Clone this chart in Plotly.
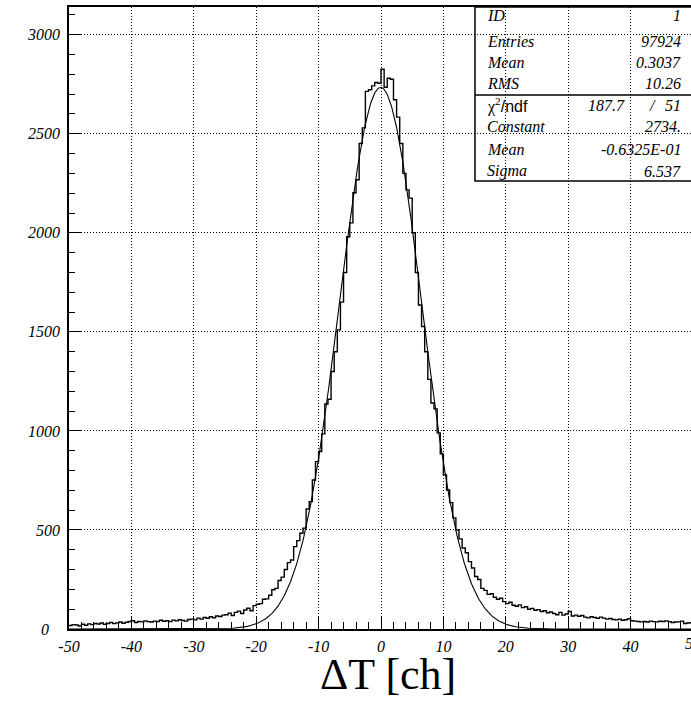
import numpy as np
import plotly.graph_objects as go

# ---- data -------------------------------------------------------------
bin_lo, bin_hi, bin_w = -50.0, 50.0, 0.5
counts = [
    # -50 .. -40
    18, 22, 20, 15, 24, 19, 26, 22, 28, 25, 30, 24, 28, 33, 27, 31, 35, 29, 34, 38,
    # -40 .. -30
    42, 33, 38, 36, 41, 37, 35, 40, 38, 44, 39, 42, 37, 45, 41, 47, 43, 40, 48, 50,
    # -30 .. -25
    46, 55, 50, 58, 54, 62, 57, 66, 63, 70,
    # -25 .. -20
    72, 80, 68, 84, 90, 78, 96, 105, 92, 118,
    # -20 .. -15
    125, 128, 150, 152, 170, 198, 205, 245, 262, 300,
    # -15 .. -10
    335, 348, 416, 446, 483, 509, 606, 643, 752, 845,
    # -10 .. -5
    896, 985, 1136, 1160, 1300, 1400, 1510, 1650, 1800, 1980,
    # -5 .. 0
    2050, 2202, 2268, 2451, 2530, 2714, 2722, 2742, 2759, 2755,
    # 0 .. 5
    2826, 2735, 2780, 2775, 2672, 2584, 2451, 2300, 2217, 2175,
    # 5 .. 10
    2000, 1800, 1636, 1527, 1400, 1260, 1141, 1111, 990, 884,
    # 10 .. 15
    778, 702, 638, 561, 500, 455, 409, 385, 340, 308,
    # 15 .. 20
    265, 250, 205, 195, 175, 178, 160, 150, 155, 138,
    # 20 .. 30
    128, 135, 120, 115, 122, 108, 112, 100, 104, 95, 98, 88, 92, 82, 86, 78, 72, 84, 70, 76,
    # 30 .. 40
    88, 66, 70, 64, 68, 60, 56, 62, 58, 54, 60, 55, 50, 53, 48, 46, 50, 44, 47, 52,
    # 40 .. 50
    42, 40, 38, 36, 38, 35, 40, 37, 36, 39, 38, 41, 37, 33, 35, 36, 40, 28, 30, 32,
]

# Gaussian fit parameters (from the statistics box)
fit_const = 2734.0
fit_mean = -0.06325
fit_sigma = 6.537

x_ticks = [-50, -40, -30, -20, -10, 0, 10, 20, 30, 40]
y_ticks = [0, 500, 1000, 1500, 2000, 2500, 3000]

stat_labels = ["ID", "Entries", "Mean", "RMS"]
stat_values = ["1", "97924", "0.3037", "10.26"]
fit_labels = ["Constant", "Mean", "Sigma"]
fit_values = ["2734.", "-0.6325E-01", "6.537"]
chi2_value = "187.7"
ndf_value = "51"

x_title = "ΔT [ch]"

# ---- geometry -----------------------------------------------------------
W, H = 691, 705
L, T, B = 69, 7, 76
PW, PH = W - L, H - T - B
px_per_unit = 6.24
x_range = [bin_lo, bin_lo + PW / px_per_unit]
y_range = [0, 3140]

def px(X):   # pixel x -> paper
    return (X - L) / PW

def py(Y):   # pixel y -> paper
    return (H - B - Y) / PH

# ---- traces -------------------------------------------------------------
edges = list(np.arange(bin_lo, bin_hi + 1e-9, bin_w))
hx = edges
hy = counts + [counts[-1]]

fx = np.linspace(bin_lo, bin_hi, 1200)
fy = fit_const * np.exp(-0.5 * ((fx - fit_mean) / fit_sigma) ** 2)

fig = go.Figure()
fig.add_trace(go.Scatter(x=hx, y=hy, mode="lines", line=dict(shape="hv", color="black", width=1.4),
                         hoverinfo="skip", showlegend=False))
fig.add_trace(go.Scatter(x=fx, y=fy, mode="lines", line=dict(color="black", width=1.1),
                         hoverinfo="skip", showlegend=False))

tickfont = dict(family="Liberation Serif", size=16, color="black", style="italic")

fig.update_layout(
    width=W, height=H,
    margin=dict(l=L, r=0, t=T, b=B, pad=0),
    paper_bgcolor="white", plot_bgcolor="white",
    showlegend=False,
    xaxis=dict(
        range=x_range, tickmode="array", tickvals=x_ticks, ticktext=[str(v) for v in x_ticks],
        ticks="inside", ticklen=13, tickwidth=1, tickcolor="black",
        showline=True, linewidth=1.5, linecolor="black", mirror=True,
        showgrid=True, gridcolor="black", gridwidth=1, griddash="1px,2px",
        zeroline=False, tickfont=tickfont, ticklabelstandoff=2,
        minor=dict(ticks="inside", ticklen=7, dtick=2, tick0=0, tickwidth=1, tickcolor="black", showgrid=False),
    ),
    yaxis=dict(
        range=y_range, tickmode="array", tickvals=y_ticks[1:],
        ticktext=[str(v) for v in y_ticks[1:]],
        ticks="inside", ticklen=12, tickwidth=1, tickcolor="black",
        showline=True, linewidth=1.5, linecolor="black",
        showgrid=True, gridcolor="black", gridwidth=1, griddash="1px,2px",
        zeroline=False, tickfont=tickfont, ticklabelstandoff=4,
        minor=dict(ticks="inside", ticklen=6, dtick=100, tick0=0, tickwidth=1, tickcolor="black", showgrid=False),
    ),
)

ann = []
# zero label on y axis and cut-off "50" on x axis
ann.append(dict(text=str(y_ticks[0]), x=px(45), y=py(629), xref="paper", yref="paper", showarrow=False,
                xanchor="center", yanchor="middle", font=tickfont))
ann.append(dict(text="50", x=px(693), y=py(643), xref="paper", yref="paper", showarrow=False,
                xanchor="center", yanchor="middle", font=tickfont))
# axis title
ann.append(dict(text=x_title, x=px(388), y=py(674), xref="paper", yref="paper", showarrow=False,
                xanchor="center", yanchor="middle",
                font=dict(family="Liberation Serif", size=44, color="black")))

# statistics box
box_x0, box_top, box_bot, box_div = 475, 7, 181, 95
fig.add_shape(type="rect", xref="paper", yref="paper", x0=px(box_x0), x1=px(W + 6),
              y0=py(box_bot), y1=py(box_top), line=dict(color="black", width=1.5),
              fillcolor="rgba(0,0,0,0)", layer="above")
fig.add_shape(type="line", xref="paper", yref="paper", x0=px(box_x0), x1=px(W + 6),
              y0=py(box_div), y1=py(box_div), line=dict(color="black", width=1.5), layer="above")

lab_x, val_x = 485, 683
stat_rows_y = [16, 41, 62, 83]
fit_rows_y = [127, 149, 171]
chi_y = 106
sfont = dict(family="Liberation Serif", size=16, color="black", style="italic")
for lab, val, yy in zip(stat_labels, stat_values, stat_rows_y):
    ann.append(dict(text=lab, x=px(lab_x), y=py(yy), xref="paper", yref="paper", showarrow=False,
                    xanchor="left", yanchor="middle", font=sfont))
    ann.append(dict(text=val, x=px(val_x), y=py(yy), xref="paper", yref="paper", showarrow=False,
                    xanchor="right", yanchor="middle", font=sfont))
for lab, val, yy in zip(fit_labels, fit_values, fit_rows_y):
    ann.append(dict(text=lab, x=px(lab_x), y=py(yy), xref="paper", yref="paper", showarrow=False,
                    xanchor="left", yanchor="middle", font=sfont))
    ann.append(dict(text=val, x=px(val_x), y=py(yy), xref="paper", yref="paper", showarrow=False,
                    xanchor="right", yanchor="middle", font=sfont))
ann.append(dict(text="χ<sup>2</sup><span style='font-family:Liberation Sans;font-style:normal'>/ndf</span>",
                x=px(lab_x), y=py(chi_y), xref="paper", yref="paper", showarrow=False,
                xanchor="left", yanchor="middle",
                font=dict(family="Liberation Serif", size=16, color="black", style="normal")))
ann.append(dict(text=chi2_value, x=px(627), y=py(chi_y), xref="paper", yref="paper", showarrow=False,
                xanchor="right", yanchor="middle", font=sfont))
ann.append(dict(text="/", x=px(652), y=py(chi_y), xref="paper", yref="paper", showarrow=False,
                xanchor="center", yanchor="middle", font=sfont))
ann.append(dict(text=ndf_value, x=px(val_x), y=py(chi_y), xref="paper", yref="paper", showarrow=False,
                xanchor="right", yanchor="middle", font=sfont))

fig.update_layout(annotations=ann)
fig.write_html(
    "out.html",
    config={"displayModeBar": False},
    post_script="document.body.style.margin='0';document.body.style.overflow='hidden';",
)
